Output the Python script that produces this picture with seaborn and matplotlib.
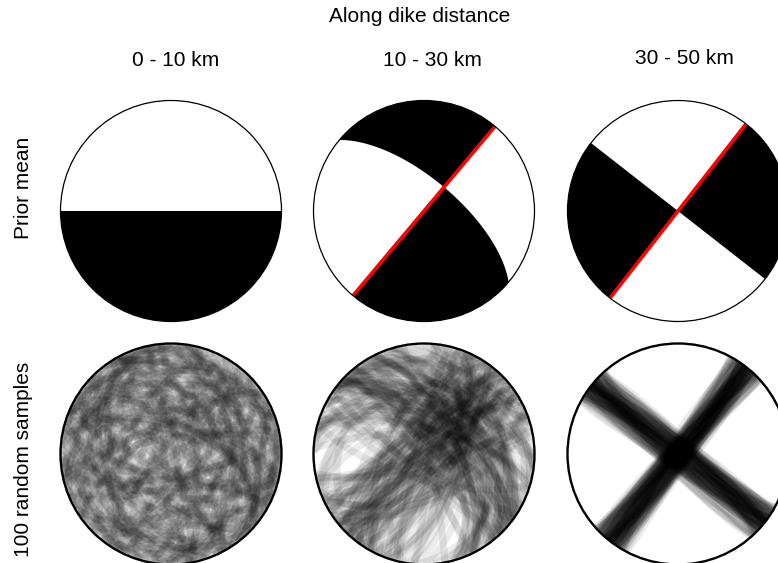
import numpy as np
import pandas as pd
import matplotlib
matplotlib.use("Agg")
import matplotlib.pyplot as plt
from matplotlib.patches import Circle
import seaborn as sns

sns.set_theme(style="white")
plt.rcParams["font.family"] = ["Liberation Sans", "DejaVu Sans"]
plt.rcParams["text.color"] = "black"

# Along-dike distance bins
ranges = ["0 - 10 km", "10 - 30 km", "30 - 50 km"]

# Prior mean mechanisms (strike, dip, rake in degrees)
mean_strike = [90, 40, 38]
mean_dip = [90, 90, 90]
mean_rake = [-90, -157, 0]
show_fault = [False, True, True]

# 100 sampled mechanisms per distance bin
strike_0_10 = [12, 247, 133, 301, 78, 195, 344, 56, 270, 162, 29, 218, 97, 315, 181, 250, 64, 139, 355, 3,
               287, 110, 203, 42, 331, 169, 88, 236, 275, 19, 148, 322, 71, 190, 259, 35, 124, 298, 8, 211,
               156, 83, 340, 227, 49, 176, 266, 117, 309, 24, 142, 293, 60, 208, 352, 101, 185, 239, 15, 327,
               93, 171, 281, 46, 223, 128, 336, 5, 199, 258, 67, 152, 311, 38, 243, 119, 347, 85, 274, 160,
               31, 214, 105, 290, 54, 231, 178, 323, 11, 146, 262, 75, 197, 348, 136, 27, 254, 114, 305, 62]
dip_0_10 = [63, 28, 81, 45, 72, 17, 54, 88, 36, 69, 50, 84, 23, 77, 41, 59, 11, 66, 86, 33,
            74, 47, 57, 25, 80, 39, 62, 70, 14, 52, 85, 30, 67, 44, 78, 21, 58, 89, 37, 71,
            48, 64, 19, 83, 55, 31, 75, 42, 60, 87, 26, 68, 49, 79, 35, 73, 15, 56, 82, 40,
            65, 29, 76, 51, 87, 22, 61, 46, 84, 34, 70, 53, 13, 77, 43, 66, 88, 27, 58, 38,
            81, 48, 72, 20, 63, 54, 85, 32, 69, 44, 79, 24, 57, 86, 36, 74, 50, 18, 65, 41]
rake_0_10 = [-143, 37, 112, -68, 174, -15, 89, -121, 52, -167, 8, 136, -94, 71, -38, 158, -179, 24, -56, 103,
             -132, 147, -81, 63, -5, 126, -150, 45, -108, 169, -27, 94, -160, 18, 131, -73, 58, -118, 162, -44,
             81, -137, 3, 115, -89, 150, -20, 67, -171, 39, 124, -62, 176, -101, 31, -146, 86, -12, 140, -53,
             98, -125, 14, 165, -79, 49, -156, 107, -33, 73, -113, 155, -7, 120, -92, 42, -174, 60, -48, 144,
             -129, 27, 91, -65, 171, -18, 134, -105, 55, -152, 11, 99, -41, 163, -86, 35, -135, 76, -24, 118]

strike_10_30 = [43, 26, 64, 37, 19, 54, 72, 32, 46, 11, 58, 38, 29, 69, 50, 22, 42, 78, 34, 53,
                16, 61, 40, 26, 67, 48, 5, 35, 56, 45, 30, 75, 21, 51, 38, 62, 14, 42, 70, 27,
                50, 35, 10, 59, 46, 24, 66, 37, 54, 18, 45, 74, 32, 40, 6, 53, 29, 64, 43, 22,
                58, 35, 48, 77, 26, 40, 13, 51, 62, 34, 38, 69, 19, 46, 56, 30, 42, 8, 61, 50,
                27, 67, 37, 16, 53, 43, 72, 24, 48, 34, 59, 21, 45, 38, 80, 29, 51, 18, 56, 42]
dip_10_30 = [87, 72, 104, 94, 63, 82, 116, 96, 77, 67, 100, 85, 110, 91, 74, 59, 99, 81, 121, 89,
             69, 107, 93, 78, 61, 102, 86, 112, 76, 95, 65, 84, 119, 90, 73, 103, 98, 80, 56, 108,
             87, 68, 115, 94, 77, 100, 64, 85, 106, 91, 70, 124, 82, 96, 76, 60, 104, 89, 111, 80,
             93, 69, 102, 86, 117, 74, 95, 84, 54, 107, 90, 78, 99, 113, 72, 87, 103, 65, 94, 82,
             120, 76, 98, 85, 63, 106, 91, 73, 110, 81, 100, 68, 89, 126, 77, 96, 86, 59, 108, 93]
rake_10_30 = [-158, -132, 175, -149, -120, -166, -143, 162, -153, -128,
              -171, -139, -110, -161, -147, 170, -135, -155, -122, -177,
              -144, -114, -164, -151, -130, 178, -141, -157, -103, -168,
              -137, -150, -125, -173, -146, -118, -160, 166, -133, -154,
              -142, -169, -112, -149, -163, -127, 180, -152, -136, -106,
              -159, -145, 172, -131, -165, -140, -116, -156, -174, -134,
              -148, -123, -167, -152, 159, -138, -161, -109, -143, -170,
              -129, -155, -178, -120, -147, -162, -135, -100, -153, 176,
              -141, -166, -126, -150, -114, -172, -139, -157, -132, 168,
              -145, -160, -122, -151, -176, -137, -164, -118, -154, -169]

strike_30_50 = [38, 32, 44, 36, 41, 30, 39, 46, 34, 38, 29, 42, 36, 47, 40, 33, 38, 43, 35, 40,
                37, 45, 31, 38, 42, 34, 40, 48, 36, 38, 32, 44, 40, 34, 42, 38, 28, 45, 36, 40,
                38, 33, 44, 35, 41, 37, 47, 38, 31, 40, 35, 43, 38, 42, 32, 37, 46, 40, 34, 38,
                42, 30, 40, 36, 44, 38, 34, 47, 36, 40, 33, 42, 38, 45, 35, 40, 37, 29, 43, 38,
                41, 34, 40, 32, 46, 36, 38, 42, 31, 40, 44, 35, 38, 37, 48, 39, 33, 42, 38, 35]
dip_30_50 = [90, 85, 96, 88, 83, 94, 87, 92, 97, 84, 91, 88, 95, 86, 93, 81, 94, 87, 90, 98,
             84, 89, 95, 86, 92, 85, 96, 90, 82, 88, 94, 87, 97, 84, 90, 93, 85, 96, 89, 80,
             92, 86, 95, 90, 83, 96, 88, 85, 93, 99, 87, 91, 82, 94, 88, 85, 97, 90, 83, 92,
             86, 95, 89, 84, 91, 94, 82, 88, 93, 86, 99, 90, 85, 95, 88, 83, 92, 87, 96, 90,
             81, 89, 94, 85, 91, 97, 87, 92, 84, 89, 95, 90, 86, 94, 88, 82, 93, 89, 97, 91]
rake_30_50 = [0, 6, -4, 9, -7, 3, -2, 10, -9, 4, 1, -6, 7, -3, 12, -10, 0, 5, -8, 6,
              -2, 9, -5, 3, -12, 7, 1, -3, 6, -9, 4, 0, -6, 10, -1, 3, -7, 8, -4, 2,
              9, -3, 0, -10, 6, 3, -6, 4, -2, 8, -9, 2, 11, -4, 3, -3, 6, -8, 0, 9,
              -2, 5, -6, 3, 7, -4, 1, -9, 6, 0, -3, 10, -7, 4, 1, -2, 8, -6, 3, -5,
              9, 0, -3, 6, -11, 2, 4, -7, 3, -1, 7, -4, 0, 6, -9, 3, 2, -6, 8, -3]

sample_sets = [
    (strike_0_10, dip_0_10, rake_0_10),
    (strike_10_30, dip_10_30, rake_10_30),
    (strike_30_50, dip_30_50, rake_30_50),
]


def mech_vectors(strike, dip, rake):
    """Fault normal and slip vector (North, East, Down)."""
    phi, dl, lam = np.radians([strike, dip, rake])
    n = np.array([-np.sin(dl) * np.sin(phi), np.sin(dl) * np.cos(phi), -np.cos(dl)])
    d = np.array([np.cos(lam) * np.cos(phi) + np.cos(dl) * np.sin(lam) * np.sin(phi),
                  np.cos(lam) * np.sin(phi) - np.cos(dl) * np.sin(lam) * np.cos(phi),
                  -np.sin(lam) * np.sin(dl)])
    return n, d


def project(v):
    """Lower-hemisphere equal-area projection of NED unit vectors."""
    v = v / np.linalg.norm(v, axis=-1, keepdims=True)
    inc = np.arccos(np.clip(v[..., 2], -1, 1))
    az = np.arctan2(v[..., 1], v[..., 0])
    r = np.sqrt(2) * np.sin(inc / 2)
    return r * np.sin(az), r * np.cos(az)


def great_circle(normal, npts=181):
    v = normal / np.linalg.norm(normal)
    u1 = np.cross(v, [0.0, 0.0, 1.0])
    if np.linalg.norm(u1) < 1e-9:
        u1 = np.array([1.0, 0.0, 0.0])
    u1 = u1 / np.linalg.norm(u1)
    u2 = np.cross(v, u1)
    if u2[2] < 0:
        u2 = -u2
    t = np.linspace(0, np.pi, npts)
    pts = np.outer(np.cos(t), u1) + np.outer(np.sin(t), u2)
    return project(pts)


W, H = 778, 563
R = 110.5
PAD = 6
col_x = [171, 424, 678]
row_y = [211, 454]

fig = plt.figure(figsize=(W / 100, H / 100), dpi=100)


def ball_axes(cx, cy):
    half = R + PAD
    ax = fig.add_axes([(cx - half) / W, (H - cy - half) / H, 2 * half / W, 2 * half / H])
    lim = half / R
    ax.set_xlim(-lim, lim)
    ax.set_ylim(-lim, lim)
    ax.set_axis_off()
    return ax


g = np.linspace(-1.08, 1.08, 801)
GX, GY = np.meshgrid(g, g)
gr = np.hypot(GX, GY)
ginc = 2 * np.arcsin(np.clip(gr / np.sqrt(2), 0, 1))
gaz = np.arctan2(GX, GY)
gam = np.stack([np.sin(ginc) * np.cos(gaz), np.sin(ginc) * np.sin(gaz), np.cos(ginc)], axis=-1)

# Top row: prior mean beachballs
for k in range(3):
    ax = ball_axes(col_x[k], row_y[0])
    n, d = mech_vectors(mean_strike[k], mean_dip[k], mean_rake[k])
    val = (gam @ n) * (gam @ d)
    clip = Circle((0, 0), 1.0, transform=ax.transData, facecolor="none", edgecolor="none")
    ax.add_patch(clip)
    cs = ax.contourf(GX, GY, val, levels=[0, np.nanmax(val) + 1], colors="black", antialiased=True)
    cs.set_clip_path(clip)
    if show_fault[k]:
        fx, fy = great_circle(n)
        ln, = ax.plot(fx, fy, color="red", lw=2.6, solid_capstyle="butt", zorder=3)
        ln.set_clip_path(clip)
    ax.add_patch(Circle((0, 0), 1.0, facecolor="none", edgecolor="black", lw=0.9, zorder=4))

# Bottom row: nodal planes of the sampled mechanisms
for k in range(3):
    ax = ball_axes(col_x[k], row_y[1])
    strikes, dips, rakes = sample_sets[k]
    rows = []
    for i, (s, dp, rk) in enumerate(zip(strikes, dips, rakes)):
        n, d = mech_vectors(s, dp, rk)
        for j, normal in enumerate((n, d)):
            px, py = great_circle(normal)
            rows.append(pd.DataFrame({"x": px, "y": py, "trace": 2 * i + j}))
    df = pd.concat(rows, ignore_index=True)
    clip = Circle((0, 0), 1.0, transform=ax.transData, facecolor="none", edgecolor="none")
    ax.add_patch(clip)
    sns.lineplot(data=df, x="x", y="y", units="trace", estimator=None, sort=False,
                 color="black", alpha=0.08, linewidth=5.2, legend=False, ax=ax)
    for ln in ax.lines:
        ln.set_clip_path(clip)
        ln.set_solid_capstyle("butt")
    ax.set_xlim(-(R + PAD) / R, (R + PAD) / R)
    ax.set_ylim(-(R + PAD) / R, (R + PAD) / R)
    ax.set_axis_off()
    ax.add_patch(Circle((0, 0), 1.0, facecolor="none", edgecolor="black", lw=1.7, zorder=4))

# Labels
FS = 15
fig.text(420 / W, 1 - 17 / H, "Along dike distance", ha="center", va="center", fontsize=FS)
title_pos = [(176, 60), (432, 60), (684, 59)]
for (tx, ty), lab in zip(title_pos, ranges):
    fig.text(tx / W, 1 - ty / H, lab, ha="center", va="center", fontsize=FS)
fig.text(24 / W, 1 - 188 / H, "Prior mean", ha="center", va="center", rotation=90, fontsize=FS)
fig.text(24 / W, 1 - 459 / H, "100 random samples", ha="center", va="center", rotation=90, fontsize=FS)

fig.savefig("out.png", dpi=100)
